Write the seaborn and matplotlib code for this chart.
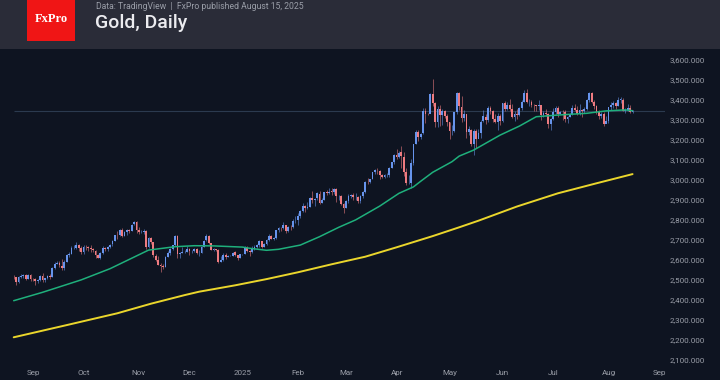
import numpy as np
import pandas as pd
import matplotlib
matplotlib.use("Agg")
import matplotlib.pyplot as plt
from matplotlib.patches import Rectangle
import seaborn as sns

# ---- data: XAUUSD daily (Aug 21 2024 .. Aug 15 2025)
first_open = 2514
closes = [
    # Aug 2024
    2512, 2485, 2512, 2518, 2524, 2504, 2521, 2503,
    # Sep
    2500, 2493, 2495, 2517, 2497, 2506, 2516, 2512, 2558, 2578, 2582, 2569, 2559, 2587, 2622,
    2628, 2657, 2657, 2672, 2658, 2634,
    # Oct
    2663, 2659, 2656, 2653, 2644, 2622, 2608, 2630, 2657, 2649, 2662, 2674, 2693, 2721, 2720,
    2749, 2715, 2736, 2747, 2743, 2774, 2788, 2744,
    # Nov
    2736, 2736, 2743, 2659, 2706, 2685, 2619, 2598, 2573, 2565, 2563, 2612, 2631, 2651, 2670,
    2715, 2626, 2632, 2637, 2638, 2650,
    # Dec
    2639, 2643, 2650, 2632, 2633, 2660, 2694, 2718, 2680, 2648, 2652, 2646, 2586, 2594, 2622,
    2613, 2617, 2617, 2634, 2621, 2606, 2624,
    # Jan 2025
    2625, 2658, 2640, 2636, 2649, 2662, 2670, 2690, 2663, 2677, 2697, 2715, 2703, 2708, 2745,
    2756, 2755, 2771, 2740, 2763, 2760, 2794, 2798,
    # Feb
    2815, 2843, 2866, 2856, 2861, 2908, 2898, 2904, 2929, 2883, 2898, 2935, 2933, 2939, 2936,
    2952, 2915, 2916, 2876, 2858,
    # Mar
    2893, 2918, 2920, 2910, 2910, 2889, 2916, 2934, 2988, 2984, 3001, 3034, 3048, 3044, 3023,
    3011, 3019, 3019, 3057, 3085, 3124,
    # Apr
    3113, 3134, 3114, 3037, 2982, 2982, 3083, 3175, 3237, 3210, 3229, 3343, 3327, 3326, 3424,
    3381, 3288, 3349, 3319, 3343, 3317, 3288,
    # May
    3239, 3241, 3334, 3431, 3364, 3305, 3325, 3234, 3249, 3178, 3240, 3201, 3230, 3289, 3314,
    3295, 3357, 3342, 3301, 3288, 3318, 3289,
    # Jun
    3380, 3353, 3372, 3352, 3310, 3326, 3322, 3355, 3386, 3433, 3385, 3388, 3370, 3369, 3368,
    3369, 3323, 3332, 3327, 3274, 3303,
    # Jul
    3338, 3357, 3326, 3337, 3336, 3302, 3313, 3324, 3355, 3344, 3324, 3347, 3339, 3350, 3397,
    3431, 3387, 3368, 3337, 3314, 3326, 3274, 3289,
    # Aug
    3363, 3373, 3380, 3368, 3397, 3398, 3342, 3348, 3356, 3335, 3340,
]
highs = [
    2521, 2512, 2514, 2528, 2526, 2526, 2528, 2524,
    2505, 2504, 2503, 2523, 2529, 2508, 2519, 2525, 2560, 2586, 2590, 2590, 2600, 2594, 2625,
    2634, 2664, 2671, 2685, 2674, 2664,
    2673, 2670, 2667, 2671, 2658, 2648, 2625, 2634, 2668, 2660, 2668, 2676, 2696, 2722, 2740,
    2749, 2758, 2740, 2749, 2750, 2775, 2790, 2790,
    2762, 2746, 2750, 2744, 2710, 2709, 2685, 2626, 2618, 2579, 2574, 2615, 2639, 2656, 2673,
    2722, 2720, 2635, 2663, 2647, 2665,
    2657, 2647, 2657, 2655, 2645, 2668, 2697, 2726, 2721, 2683, 2658, 2653, 2652, 2616, 2632,
    2629, 2622, 2620, 2638, 2640, 2623, 2627,
    2628, 2665, 2665, 2645, 2665, 2671, 2678, 2697, 2690, 2679, 2699, 2725, 2723, 2711, 2746,
    2763, 2760, 2786, 2772, 2766, 2770, 2800, 2817,
    2830, 2845, 2882, 2870, 2887, 2911, 2942, 2906, 2935, 2943, 2906, 2936, 2947, 2955, 2954,
    2956, 2956, 2922, 2920, 2882,
    2897, 2928, 2927, 2930, 2930, 2915, 2920, 2941, 2990, 3005, 3002, 3038, 3050, 3057, 3047,
    3027, 3024, 3032, 3060, 3087, 3128,
    3149, 3139, 3167, 3136, 3055, 3023, 3099, 3176, 3245, 3245, 3232, 3357, 3357, 3330, 3430,
    3500, 3386, 3367, 3370, 3350, 3345, 3328,
    3285, 3269, 3335, 3435, 3437, 3414, 3346, 3325, 3266, 3253, 3252, 3253, 3250, 3295, 3345,
    3325, 3366, 3365, 3348, 3325, 3330, 3326,
    3383, 3392, 3385, 3403, 3375, 3339, 3349, 3360, 3398, 3446, 3452, 3402, 3394, 3378, 3370,
    3398, 3370, 3341, 3350, 3329, 3305,
    3358, 3365, 3366, 3342, 3345, 3345, 3317, 3330, 3369, 3375, 3366, 3377, 3353, 3361, 3402,
    3434, 3438, 3394, 3373, 3345, 3334, 3334, 3315,
    3363, 3385, 3390, 3384, 3409, 3410, 3405, 3358, 3375, 3370, 3345,
]
lows = [
    2499, 2471, 2483, 2505, 2505, 2497, 2502, 2493,
    2491, 2472, 2479, 2491, 2485, 2487, 2500, 2500, 2509, 2553, 2574, 2563, 2546, 2547, 2585,
    2613, 2624, 2651, 2651, 2643, 2624,
    2625, 2644, 2642, 2634, 2636, 2606, 2605, 2603, 2628, 2639, 2640, 2656, 2665, 2690, 2703,
    2718, 2709, 2717, 2720, 2730, 2740, 2770, 2730,
    2727, 2730, 2726, 2652, 2657, 2675, 2610, 2589, 2569, 2536, 2549, 2561, 2611, 2620, 2646,
    2666, 2606, 2605, 2630, 2629, 2637,
    2622, 2630, 2637, 2626, 2614, 2631, 2660, 2693, 2677, 2644, 2641, 2639, 2582, 2584, 2593,
    2603, 2609, 2614, 2615, 2617, 2596, 2605,
    2622, 2624, 2635, 2614, 2633, 2646, 2658, 2663, 2656, 2661, 2673, 2692, 2700, 2697, 2701,
    2736, 2741, 2753, 2730, 2738, 2745, 2757, 2780,
    2772, 2805, 2838, 2834, 2853, 2860, 2880, 2864, 2898, 2877, 2880, 2894, 2921, 2925, 2919,
    2926, 2888, 2897, 2873, 2832,
    2856, 2880, 2907, 2894, 2896, 2880, 2882, 2905, 2933, 2976, 2980, 3000, 3025, 3027, 2999,
    3008, 3008, 3013, 3013, 3055, 3076,
    3100, 3105, 3054, 3015, 2970, 2974, 2957, 3073, 3174, 3193, 3200, 3228, 3283, 3322, 3330,
    3367, 3260, 3260, 3265, 3269, 3306, 3268,
    3202, 3222, 3234, 3324, 3344, 3287, 3293, 3208, 3222, 3167, 3121, 3154, 3205, 3204, 3285,
    3277, 3287, 3325, 3285, 3281, 3245, 3271,
    3286, 3343, 3344, 3339, 3306, 3293, 3300, 3318, 3345, 3385, 3380, 3366, 3362, 3340, 3341,
    3348, 3295, 3312, 3316, 3255, 3246,
    3296, 3328, 3311, 3324, 3296, 3287, 3283, 3310, 3322, 3341, 3320, 3319, 3310, 3333, 3345,
    3385, 3380, 3351, 3325, 3301, 3308, 3268, 3282,
    3281, 3345, 3358, 3353, 3366, 3379, 3341, 3331, 3343, 3330, 3331,
]

# moving averages
ma50_dates = ["2024-08-21", "2024-09-06", "2024-09-30", "2024-10-16", "2024-11-07",
              "2024-11-22", "2024-12-04", "2024-12-16", "2025-01-01", "2025-01-06",
              "2025-01-15", "2025-01-22", "2025-02-04", "2025-02-14", "2025-02-26",
              "2025-03-07", "2025-03-21", "2025-04-02", "2025-04-10", "2025-04-15",
              "2025-04-22", "2025-05-02", "2025-05-07", "2025-05-15", "2025-05-30",
              "2025-06-11", "2025-06-20", "2025-07-04", "2025-07-21", "2025-07-31",
              "2025-08-12", "2025-08-15"]
ma50_values = [2393, 2435, 2497, 2553, 2646, 2663, 2668, 2667, 2661, 2655,
               2645, 2650, 2671, 2713, 2760, 2797, 2866, 2930, 2962, 2990,
               3035, 3088, 3116, 3146, 3221, 3266, 3313, 3322, 3330, 3342,
               3347, 3343]
ma200_dates = ["2024-08-21", "2024-09-20", "2024-10-21", "2024-11-08", "2024-11-28",
               "2024-12-06", "2024-12-27", "2025-01-15", "2025-02-03", "2025-02-21",
               "2025-03-13", "2025-04-01", "2025-04-22", "2025-05-07", "2025-05-19",
               "2025-06-10", "2025-07-03", "2025-07-25", "2025-08-15"]
ma200_values = [2210, 2271, 2330, 2378, 2421, 2438, 2470, 2501, 2535, 2575,
                2613, 2660, 2716, 2760, 2793, 2864, 2930, 2980, 3026]

y_ticks = list(range(2100, 3700, 100))

# colours
HEADER_BG = "#2a2c38"
CHART_BG = "#0e1421"
UP = "#6794ec"
DOWN = "#ee7b80"
TXT = "#9a9ea8"

dates = pd.bdate_range("2024-08-21", periods=len(closes))
df = pd.DataFrame({"date": dates, "close": closes, "high": highs, "low": lows})
df["open"] = [first_open] + closes[:-1]
df["idx"] = np.arange(len(df))
df["up"] = df["close"] >= df["open"]

ma50 = pd.DataFrame({"idx": dates.searchsorted(pd.to_datetime(ma50_dates)), "v": ma50_values})
ma200 = pd.DataFrame({"idx": dates.searchsorted(pd.to_datetime(ma200_dates)), "v": ma200_values})

sns.set_theme(style="dark")
plt.rcParams["font.family"] = ["Roboto", "DejaVu Sans"]

W, H = 720, 380
fig = plt.figure(figsize=(W / 100, H / 100), dpi=100, facecolor=CHART_BG)

# header band + logo
fig.patches.append(Rectangle((0, 1 - 49 / H), 1, 49 / H, transform=fig.transFigure,
                             facecolor=HEADER_BG, edgecolor="none", zorder=0))
fig.patches.append(Rectangle((27 / W, 1 - 41 / H), 48 / W, 41 / H, transform=fig.transFigure,
                             facecolor="#f01515", edgecolor="none", zorder=1))
fig.text(51 / W, 1 - 19 / H, "FxPro", family="Liberation Serif", weight="bold",
         fontsize=9, color="white", ha="center", va="center")
fig.text(96 / W, 1 - 6.5 / H, "Data: TradingView  |  FxPro published August 15, 2025",
         fontsize=6.2, color=TXT, va="center")
fig.text(95 / W, 1 - 23 / H, "Gold, Daily", fontsize=14, color="#ececf0", va="center",
         weight="medium")

# price pane
ax = fig.add_axes([0, 14 / H, 665 / W, (366 - 49) / H])
ax.set_facecolor(CHART_BG)
for s in ax.spines.values():
    s.set_visible(False)
ax.grid(False)

x0, step = 13.7, 2.408
ax.set_xlim(-x0 / step, (665 - x0) / step)
ax.set_ylim(3600 - (366 - 59.3) * 5, 3600 + (59.3 - 49) * 5)

# candles
colors = np.where(df["up"], UP, DOWN)
ax.vlines(df["idx"], df["low"], df["high"], colors=colors, linewidth=0.6, alpha=0.65, zorder=2)
body_lo = np.minimum(df["open"], df["close"])
body_h = np.maximum(np.abs(df["close"] - df["open"]), 2)
ax.bar(df["idx"], body_h, bottom=body_lo, width=0.75, color=colors, linewidth=0, zorder=3)

# moving averages
sns.lineplot(data=ma200, x="idx", y="v", color="#ead62c", linewidth=1.4, ax=ax, zorder=4)
sns.lineplot(data=ma50, x="idx", y="v", color="#1fb07c", linewidth=1.1, ax=ax, zorder=4)

# last price line
ax.hlines(closes[-1], 0, (665 - x0) / step, color="#2b3a4f", linewidth=0.8, zorder=1)

# axes ticks
ax.yaxis.tick_right()
ax.set_yticks(y_ticks)
ax.set_yticklabels([f"{v:,.3f}" for v in y_ticks])
ext = pd.bdate_range("2024-08-21", "2025-09-05")
month_pos, month_lab = [], []
for i, d in enumerate(ext):
    if i > 0 and d.month != ext[i - 1].month:
        month_pos.append(i)
        month_lab.append("2025" if d.month == 1 else d.strftime("%b"))
ax.set_xticks(month_pos)
ax.set_xticklabels(month_lab)
ax.tick_params(axis="y", length=0, pad=3.5, labelsize=5.8, labelcolor=TXT)
ax.tick_params(axis="x", length=0, pad=3, labelsize=5.8, labelcolor=TXT)
ax.set_xlabel("")
ax.set_ylabel("")

fig.savefig("out.png", dpi=100, facecolor=CHART_BG)
